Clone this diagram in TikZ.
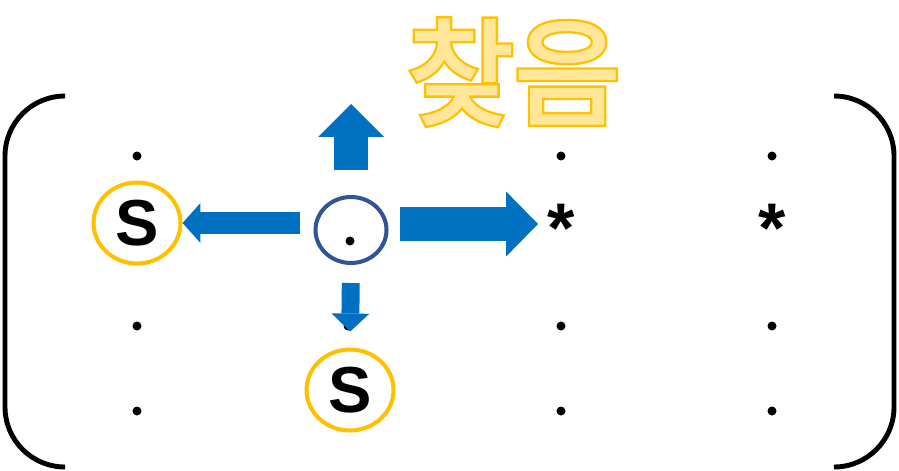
\documentclass[tikz,border=0pt]{standalone}
\usepackage{fontspec}
\setmainfont{Liberation Sans}
\newfontfamily\korline[FakeBold=6]{Noto Sans CJK KR}
\newfontfamily\korfill[FakeBold=2]{Noto Sans CJK KR}
\usetikzlibrary{positioning,arrows.meta,shapes.geometric}
\definecolor{sy}{HTML}{FFC000}
\definecolor{cb}{HTML}{2F5597}
\definecolor{ab}{HTML}{0070C0}
\definecolor{ky}{HTML}{FFE699}
\tikzset{
dot/.style={circle,fill=black,inner sep=0pt,minimum size=0.18cm},
sv/.style={ellipse,draw=sy,line width=2.3pt,inner sep=0pt,
  minimum width=1.74cm,minimum height=1.62cm,
  font=\fontsize{37}{40}\selectfont\bfseries},
cv/.style={ellipse,draw=cb,line width=2.3pt,minimum width=1.42cm,minimum height=1.32cm},
st/.style={inner sep=0pt,anchor=north,font=\fontsize{40}{42}\selectfont\bfseries},
brk/.style={line width=2.8pt,rounded corners=1.2cm},
blk/.style={draw=ab,line width=#1},
tl/.style={font=\fontsize{66}{70}\selectfont,inner sep=0pt},
}

\begin{document}
\begin{tikzpicture}[x=0.02cm,y=-0.02cm]
	\useasboundingbox (0,0) rectangle (899,470);

	% brackets
	\draw[brk] (65,96) -- (5,96) -- (5,467) -- (65,467);
	\draw[brk] (835,96) -- (894,96) -- (894,467) -- (835,467);

	% title
	\node[tl,text=sy] (ttl) at (514,72) {\korline 찾음};
	\node[tl,text=ky] (ttlf) at (ttl) {\korfill 찾음};

	% grid
	\node[dot] (d11) at (137,156) {};
	\node[sv] (sl) at (137,223) {S};
	\node[dot] (d13) at (137,326) {};
	\node[dot] (d14) at (137,411) {};

	\node[cv] (cur) at (351,230) {};
	\node[dot] (cd) at (350,241) {};
	\node[dot] (d23) at (348,326) {};
	\node[sv] (sb) at (350,390) {S};

	\node[dot] (d31) at (561,156) {};
	\node[st] (s32) at (561,204) {*};
	\node[dot] (d33) at (561,326) {};
	\node[dot] (d34) at (561,411) {};

	\node[dot] (d41) at (772,156) {};
	\node[st] (s42) at (772,204) {*};
	\node[dot] (d43) at (772,326) {};
	\node[dot] (d44) at (772,411) {};

	\coordinate (tu) at (351,104);
	\coordinate (tr) at (538,224);

	% moves
	\draw[blk=12.5pt,-{Triangle[length=10.2pt,width=22.7pt,line width=0pt]},shorten <=0.26cm]
	  (cur.west |- sl.east) -- (sl.east);
	\draw[blk=19.3pt,-{Triangle[length=18.1pt,width=36.9pt,line width=0pt]},shorten <=0.22cm]
	  (cur.east |- tr) -- (tr);
	\draw[blk=19.8pt,-{Triangle[length=18.7pt,width=37.4pt,line width=0pt]},shorten <=0.5cm]
	  (cur.north) -- (tu);
	\draw[blk=10.2pt,-{Triangle[length=10.2pt,width=21.5pt,line width=0pt]},shorten <=0.36cm,shorten >=0.32cm]
	  (cur.south) -- (sb.north);
\end{tikzpicture}
\end{document}
